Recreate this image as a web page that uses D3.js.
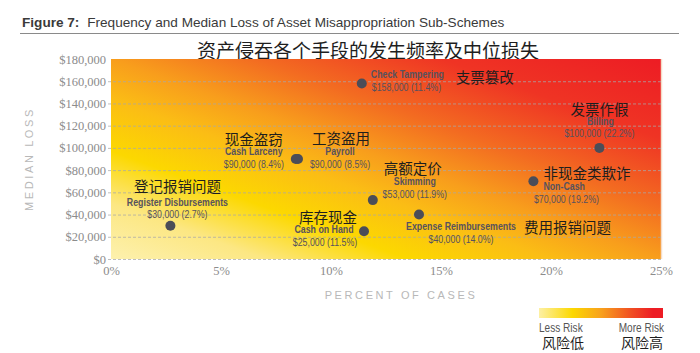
<!DOCTYPE html>
<html>
<head>
<meta charset="utf-8">
<script src="https://cdn.jsdelivr.net/npm/d3@7"></script>
<style>
  body { margin: 0; background: #fff; }
  svg { display: block; }
  .cn { font-family: "Noto Sans CJK SC", sans-serif; fill: #1e1e1e; }
  .en { font-family: "Liberation Sans", Arial, sans-serif; }
  .serif { font-family: "Liberation Serif", "DejaVu Serif", serif; fill: #8c8c8c; }
</style>
</head>
<body>
<div id="chart"></div>
<script>
// data
const schemes = ["Billing", "Non-Cash", "Expense Reimbursements", "Skimming", "Cash on Hand",
                 "Check Tampering", "Payroll", "Cash Larceny", "Register Disbursements"];
const schemesZh = ["发票作假", "非现金类欺诈", "费用报销问题", "高额定价", "库存现金",
                   "支票篡改", "工资盗用", "现金盗窃", "登记报销问题"];
const percentOfCases = [22.2, 19.2, 14.0, 11.9, 11.5, 11.4, 8.5, 8.4, 2.7];
const medianLoss = [100000, 70000, 40000, 53000, 25000, 158000, 90000, 90000, 30000];
const xTicks = [0, 5, 10, 15, 20, 25];
const yTicks = [0, 20000, 40000, 60000, 80000, 100000, 120000, 140000, 160000, 180000];

// label placement around each dot: [dx, dy, anchor] for chinese, english, value
const labelLayout = {
  "Billing":                { cn: [0, -39, "middle"], en: [1, -27, "middle"], val: [0, -15, "middle"] },
  "Non-Cash":               { cn: [10, -9, "start"], en: [10, 5, "start"], val: [33, 18, "middle"] },
  "Expense Reimbursements": { cn: [105, 12, "start"], en: [42, 12, "middle"], val: [42, 25, "middle"] },
  "Skimming":               { cn: [40, -33, "middle"], en: [42, -19, "middle"], val: [42, -6, "middle"] },
  "Cash on Hand":           { cn: [-36, -15, "middle"], en: [-40, -2, "middle"], val: [-39, 11, "middle"] },
  "Check Tampering":        { cn: [94, -7, "start"], en: [9, -9, "start"], val: [10, 4, "start"] },
  "Payroll":                { cn: [43, -22, "middle"], en: [42, -8, "middle"], val: [42, 5, "middle"] },
  "Cash Larceny":           { cn: [-42, -21, "middle"], en: [-42, -8, "middle"], val: [-42, 5, "middle"] },
  "Register Disbursements": { cn: [7, -40, "middle"], en: [7, -24, "middle"], val: [7, -12, "middle"] }
};

const W = 700, H = 353;
const margin = { top: 59, right: 39, bottom: 94, left: 111 };
const w = W - margin.left - margin.right, h = H - margin.top - margin.bottom;
const narrow = 0.8; // squeeze to mimic the condensed face of the original

const svg = d3.select("#chart").append("svg")
  .attr("width", W).attr("height", H);

// header
svg.append("text")
  .attr("x", 22).attr("y", 27)
  .attr("font-family", "Liberation Sans, Arial, sans-serif")
  .attr("font-size", 13.6).attr("fill", "#3a3a3a")
  .call(t => {
    t.append("tspan").attr("font-weight", "bold").text("Figure 7:");
    t.append("tspan").attr("dx", 4).text(" Frequency and Median Loss of Asset Misappropriation Sub-Schemes");
  });
svg.append("line")
  .attr("x1", 20).attr("x2", 679).attr("y1", 33.5).attr("y2", 33.5)
  .attr("stroke", "#8a8a8a").attr("stroke-width", 1);
svg.append("text")
  .attr("class", "cn")
  .attr("x", 368).attr("y", 49)
  .attr("text-anchor", "middle").attr("dominant-baseline", "central")
  .attr("font-size", 19)
  .text("资产侵吞各个手段的发生频率及中位损失");

const defs = svg.append("defs");

const x = d3.scaleLinear().domain([0, 25]).range([0, w]);
const y = d3.scaleLinear().domain([0, 180000]).range([h, 0]);

const g = svg.append("g").attr("transform", `translate(${margin.left},${margin.top})`);

// background heat gradient, runs from bottom-left towards the top-right
let dir = [200, -550], len = Math.hypot(dir[0], dir[1]);
let reach = 376;
let bg = defs.append("linearGradient").attr("id", "bgGrad")
  .attr("gradientUnits", "userSpaceOnUse")
  .attr("x1", 0).attr("y1", h)
  .attr("x2", dir[0] / len * reach).attr("y2", h + dir[1] / len * reach);
[[0, "#fdf1ae"], [0.14, "#fce783"], [0.27, "#fcd800"], [0.4, "#fbbd15"],
 [0.5, "#f89e1c"], [0.63, "#f36c21"], [0.8, "#ef3424"], [1, "#ed1c24"]]
  .forEach(s => bg.append("stop").attr("offset", s[0]).attr("stop-color", s[1]));

g.append("rect").attr("width", w).attr("height", h).attr("fill", "url(#bgGrad)");
g.append("line").attr("x1", w + 0.5).attr("x2", w + 0.5).attr("y1", 0).attr("y2", h)
  .attr("stroke", "#f4dcc8").attr("stroke-width", 1.5);

// dashed grid
g.selectAll(".grid").data(yTicks.filter(d => d < 180000)).enter()
  .append("line").attr("class", "grid")
  .attr("x1", -3).attr("x2", w)
  .attr("y1", d => y(d) + 0.5).attr("y2", d => y(d) + 0.5)
  .attr("stroke", "#a8a8a8").attr("stroke-opacity", 0.75)
  .attr("stroke-dasharray", "3,2");

// axes
let yAxis = g.append("g").call(d3.axisLeft(y).tickValues(yTicks)
  .tickFormat(d => "$" + d3.format(",")(d)).tickSize(0).tickPadding(5));
let xAxis = g.append("g").attr("transform", `translate(0,${h})`)
  .call(d3.axisBottom(x).tickValues(xTicks).tickFormat(d => d + "%").tickSize(0).tickPadding(7));
[yAxis, xAxis].forEach(a => {
  a.select(".domain").remove();
  a.selectAll("text").attr("class", "serif").attr("font-size", 12.5).attr("fill", "#8c8c8c");
});

svg.append("text")
  .attr("transform", `translate(29,${margin.top + h / 2}) rotate(-90)`)
  .attr("text-anchor", "middle").attr("dominant-baseline", "central")
  .attr("font-family", "Liberation Sans, Arial, sans-serif")
  .attr("font-size", 11).attr("letter-spacing", 2.6).attr("fill", "#b8b8b8")
  .text("MEDIAN LOSS");
svg.append("text")
  .attr("x", 401).attr("y", 295)
  .attr("text-anchor", "middle").attr("dominant-baseline", "central")
  .attr("font-family", "Liberation Sans, Arial, sans-serif")
  .attr("font-size", 11).attr("letter-spacing", 2.6).attr("fill", "#b8b8b8")
  .text("PERCENT OF CASES");

// points + labels
const pts = schemes.map((s, i) => ({
  name: s, zh: schemesZh[i], pct: percentOfCases[i], loss: medianLoss[i]
}));

let pg = g.selectAll(".pt").data(pts).enter().append("g")
  .attr("class", "pt")
  .attr("transform", d => `translate(${x(d.pct)},${y(d.loss)})`);

pg.append("circle").attr("r", 5).attr("fill", "#4b4d58");

function addLabel(sel, key, cls, size, weight, fill, squeeze, textFn) {
  sel.append("text")
    .attr("class", cls)
    .attr("transform", d => `translate(${labelLayout[d.name][key][0]},${labelLayout[d.name][key][1]}) scale(${squeeze},1)`)
    .attr("text-anchor", d => labelLayout[d.name][key][2])
    .attr("dominant-baseline", "central")
    .attr("font-size", size).attr("font-weight", weight)
    .style("fill", fill)
    .text(textFn);
}
addLabel(pg, "cn", "cn", 14.5, "normal", "#1e1e1e", 1, d => d.zh);
addLabel(pg, "en", "en", 11, "bold", "#57525e", narrow, d => d.name);
addLabel(pg, "val", "en", 11, "normal", "#57525e", narrow,
  d => "$" + d3.format(",")(d.loss) + " (" + d.pct.toFixed(1) + "%)");

// legend
let lg = defs.append("linearGradient").attr("id", "legGrad");
[[0, "#fdf0a4"], [0.27, "#fcd800"], [0.5, "#f8a11c"], [0.75, "#f04c23"], [0.92, "#ed1c24"], [1, "#ed1c24"]]
  .forEach(s => lg.append("stop").attr("offset", s[0]).attr("stop-color", s[1]));
svg.append("rect").attr("x", 539).attr("y", 308).attr("width", 124).attr("height", 10)
  .attr("fill", "url(#legGrad)");

[["Less Risk", "风险低", 539, "start"], ["More Risk", "风险高", 664, "end"]].forEach(l => {
  svg.append("text").attr("class", "en")
    .attr("transform", `translate(${l[2]},328) scale(0.84,1)`)
    .attr("text-anchor", l[3]).attr("dominant-baseline", "central")
    .attr("font-size", 12).style("fill", "#555").text(l[0]);
  svg.append("text").attr("class", "cn")
    .attr("x", l[2] + (l[3] === "start" ? 3 : -1)).attr("y", 342)
    .attr("text-anchor", l[3]).attr("dominant-baseline", "central")
    .attr("font-size", 14).text(l[1]);
});
</script>
</body>
</html>
